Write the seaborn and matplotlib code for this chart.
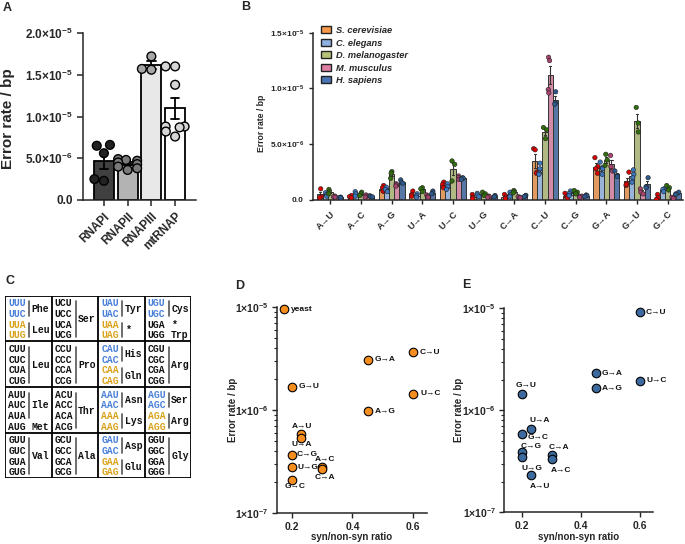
import numpy as np
import pandas as pd
import matplotlib
matplotlib.use('Agg')
import matplotlib.pyplot as plt
import seaborn as sns
from matplotlib.patches import Patch
from matplotlib.ticker import LogLocator, NullFormatter

sns.set_style('ticks')
plt.rcParams['font.family'] = ['Liberation Sans', 'DejaVu Sans']
plt.rcParams['mathtext.fontset'] = 'custom'
plt.rcParams['mathtext.rm'] = 'Liberation Sans'
plt.rcParams['mathtext.bf'] = 'Liberation Sans:bold'
plt.rcParams['mathtext.it'] = 'Liberation Sans:italic'
plt.rcParams['axes.linewidth'] = 1.1
plt.rcParams['font.weight'] = 'bold'

# ---------------- Panel A data (units of 1e-6) ----------------
pol_names = ['RNAPI', 'RNAPII', 'RNAPIII', 'mtRNAP']
rnap1 = [6.5, 6.6, 5.6, 2.5, 2.3]
rnap2 = [4.9, 4.8, 4.7, 4.5, 4.3, 4.0, 3.8, 3.6]
rnap3 = [17.2, 15.6, 15.7]
mtrnap = [16.0, 16.0, 13.8, 8.8, 8.8, 8.7, 7.6, 8.2]
a_ticks = [0, 5, 10, 15, 20]
a_ticklabels = ['0.0', r'$\mathbf{5.0×10^{-6}}$', r'$\mathbf{1.0×10^{-5}}$',
                r'$\mathbf{1.5×10^{-5}}$', r'$\mathbf{2.0×10^{-5}}$']

# ---------------- Panel B data (units of 1e-6) ----------------
mutations = ['A→U', 'A→C', 'A→G', 'U→A', 'U→C', 'U→G',
             'C→A', 'C→U', 'C→G', 'G→A', 'G→U', 'G→C']
species = ['S. cerevisiae', 'C. elegans', 'D. melanogaster', 'M. musculus', 'H. sapiens']
rep_scer = [[1.0, 0.3, 0.2], [0.4, 0.3, 0.2], [1.3, 1.1, 0.8, 0.8], [0.8, 0.5, 0.35],
            [1.6, 1.4, 1.1], [0.5, 0.25, 0.15], [0.5, 0.25, 0.15], [4.6, 4.5, 2.5, 2.4],
            [0.6, 0.3, 0.2], [3.8, 3.0, 2.8, 2.4], [2.5, 1.5, 1.3, 1.4], [0.5, 0.2, 0.05]]
rep_cele = [[0.65, 0.5, 0.35], [0.75, 0.55, 0.35], [1.15, 0.95, 0.75], [0.55, 0.4, 0.25],
            [1.45, 1.2, 0.95], [0.6, 0.45, 0.3], [0.7, 0.5, 0.3], [3.3, 2.8, 2.4, 2.3],
            [0.8, 0.6, 0.4], [3.4, 2.9, 2.8, 2.3], [2.7, 2.3, 2.0, 1.6], [1.0, 0.95, 0.75]]
rep_dmel = [[0.95, 0.75, 0.55], [0.7, 0.55, 0.4], [2.55, 2.4, 1.95], [1.1, 1.0, 0.75],
            [3.5, 3.2, 1.7], [0.7, 0.55, 0.4], [0.85, 0.75, 0.65], [6.5, 6.3, 5.5],
            [0.85, 0.7, 0.55], [4.1, 3.6, 3.1], [8.3, 6.9, 6.1], [1.3, 1.1, 0.9]]
rep_mmus = [[0.35, 0.3, 0.25], [0.45, 0.35, 0.25], [1.45, 1.35, 1.25], [0.45, 0.35, 0.25],
            [2.15, 2.0, 1.85], [0.35, 0.3, 0.25], [0.3, 0.25, 0.2], [12.8, 12.5, 9.9, 9.6],
            [0.35, 0.3, 0.25], [4.0, 3.0, 2.6], [1.0, 0.7, 0.55], [0.25, 0.2, 0.15]]
rep_hsap = [[0.26, 0.23, 0.2], [0.38, 0.33, 0.28], [1.8, 1.6, 1.5], [0.8, 0.65, 0.55],
            [2.0, 1.95, 1.85], [0.4, 0.34, 0.28], [0.42, 0.37, 0.32], [9.7, 8.7, 8.6],
            [0.45, 0.4, 0.32], [2.6, 2.2, 2.1], [2.0, 1.2, 1.1], [0.7, 0.55, 0.5]]
b_ticks = [0, 5, 10, 15]
b_ticklabels = ['0.0', r'$\mathbf{5.0×10^{-6}}$', r'$\mathbf{1.0×10^{-5}}$',
                r'$\mathbf{1.5×10^{-5}}$']

# ---------------- Panel C data ----------------
bases = ['U', 'C', 'A', 'G']
codon_groups = {
    ('U', 'U'): [([0, 1], 'Phe'), ([2, 3], 'Leu')],
    ('U', 'C'): [([0, 1, 2, 3], 'Ser')],
    ('U', 'A'): [([0, 1], 'Tyr'), ([2, 3], '*')],
    ('U', 'G'): [([0, 1], 'Cys'), ([2], '*'), ([3], 'Trp')],
    ('C', 'U'): [([0, 1, 2, 3], 'Leu')],
    ('C', 'C'): [([0, 1, 2, 3], 'Pro')],
    ('C', 'A'): [([0, 1], 'His'), ([2, 3], 'Gln')],
    ('C', 'G'): [([0, 1, 2, 3], 'Arg')],
    ('A', 'U'): [([0, 1, 2], 'Ile'), ([3], 'Met')],
    ('A', 'C'): [([0, 1, 2, 3], 'Thr')],
    ('A', 'A'): [([0, 1], 'Asn'), ([2, 3], 'Lys')],
    ('A', 'G'): [([0, 1], 'Ser'), ([2, 3], 'Arg')],
    ('G', 'U'): [([0, 1, 2, 3], 'Val')],
    ('G', 'C'): [([0, 1, 2, 3], 'Ala')],
    ('G', 'A'): [([0, 1], 'Asp'), ([2, 3], 'Glu')],
    ('G', 'G'): [([0, 1, 2, 3], 'Gly')],
}
blue_codons = ['UUU', 'UUC', 'UAU', 'UAC', 'UGU', 'UGC', 'CAU', 'CAC',
               'AAU', 'AAC', 'AGU', 'AGC', 'GAU', 'GAC']
gold_codons = ['UUA', 'UUG', 'UAA', 'UAG', 'CAA', 'CAG', 'AAA', 'AAG',
               'AGA', 'AGG', 'GAA', 'GAG']

# ---------------- Panel D / E data ----------------
d_labels = ['yeast', 'G→A', 'C→U', 'G→U', 'U→C', 'A→G', 'A→U', 'U→A',
            'C→G', 'U→G', 'A→C', 'C→A', 'G→C']
d_ratio = [0.175, 0.45, 0.6, 0.2, 0.6, 0.45, 0.23, 0.23, 0.2, 0.2, 0.3, 0.3, 0.2]
d_rate = [9.6e-6, 3.1e-6, 3.65e-6, 1.7e-6, 1.45e-6, 9.8e-7, 5.85e-7, 5.35e-7,
          3.7e-7, 2.8e-7, 2.8e-7, 2.68e-7, 2.1e-7]
e_labels = ['C→U', 'G→A', 'U→C', 'A→G', 'G→U', 'U→A', 'G→C', 'C→G',
            'U→G', 'C→A', 'A→C', 'A→U']
e_ratio = [0.6, 0.45, 0.6, 0.45, 0.2, 0.23, 0.2, 0.2, 0.2, 0.3, 0.3, 0.23]
e_rate = [9.1e-6, 2.3e-6, 1.95e-6, 1.65e-6, 1.45e-6, 6.6e-7, 5.8e-7, 3.9e-7,
          3.45e-7, 3.65e-7, 3.35e-7, 2.3e-7]
log_ticks = [1e-7, 1e-6, 1e-5]
log_ticklabels = [r'$\mathbf{1×10^{-7}}$', r'$\mathbf{1×10^{-6}}$', r'$\mathbf{1×10^{-5}}$']
ratio_ticks = [0.2, 0.4, 0.6]

# label offsets (pixels) and alignment -- styling only
d_off = [(7, 0, 'left'), (7, 0, 'left'), (7, 0, 'left'), (7, 0, 'left'), (7, 0, 'left'),
         (7, 0, 'left'), (1, 8, 'center'), (1, -6, 'center'), (5, 0, 'left'),
         (6, 0, 'left'), (3, 8, 'center'), (3, -8, 'center'), (3, -6, 'center')]
e_off = [(6, 0, 'left'), (6, 0, 'left'), (6, 0, 'left'), (6, 0, 'left'),
         (4, 8, 'center'), (9, 8, 'center'), (16, -3, 'center'), (9, 6, 'center'),
         (10, -11, 'center'), (7, 7, 'center'), (9, -12, 'center'), (9, -11, 'center')]

W, H = 685, 544
fig = plt.figure(figsize=(W / 100, H / 100), dpi=100)
fig.patch.set_facecolor('white')


def rect(l, t, r, b):
    return [l / W, 1 - b / H, (r - l) / W, (b - t) / H]


def letter(x, y, s):
    fig.text(x / W, 1 - y / H, s, fontsize=9, fontweight='bold', va='top', ha='left')


# ================= Panel A =================
axA = fig.add_axes(rect(83, 33, 196, 200))
dfA = pd.DataFrame({
    'pol': sum([[n] * len(v) for n, v in zip(pol_names, [rnap1, rnap2, rnap3, mtrnap])], []),
    'rate': rnap1 + rnap2 + rnap3 + mtrnap})
barA = ['#404040', '#b3b3b3', '#e8e8e8', '#ffffff']
dotA = ['#222222', '#7a7a7a', '#a6a6a6', '#d6d6d6']
sns.barplot(data=dfA, x='pol', y='rate', hue='pol', order=pol_names, hue_order=pol_names,
            palette=barA, errorbar='se', capsize=0.35, width=0.85, edgecolor='black',
            linewidth=1.3, err_kws={'color': 'black', 'linewidth': 1.3}, legend=False, ax=axA)
sns.swarmplot(data=dfA, x='pol', y='rate', hue='pol', order=pol_names, hue_order=pol_names,
              palette=dotA, size=6.3, edgecolor='black', linewidth=1.0, legend=False,
              warn_thresh=1.0, ax=axA)
axA.set_ylim(0, 20)
axA.set_xlim(-0.88, 3.88)
axA.set_yticks(a_ticks, a_ticklabels)
axA.tick_params(axis='y', labelsize=8.5, width=1.1, length=4)
axA.tick_params(axis='x', labelsize=8.5, width=1.1, length=4)
plt.setp(axA.get_xticklabels(), rotation=45, ha='right', rotation_mode='anchor', fontweight='bold')
axA.set_xlabel('')
axA.set_ylabel('Error rate / bp', fontsize=11, fontweight='bold')
axA.yaxis.set_label_coords(-0.6, 0.49)
sns.despine(ax=axA)

# ================= Panel B =================
axB = fig.add_axes(rect(313, 32.7, 683, 200))
rowsB = []
for sp, reps in zip(species, [rep_scer, rep_cele, rep_dmel, rep_mmus, rep_hsap]):
    for m, vals in zip(mutations, reps):
        for v in vals:
            rowsB.append((m, sp, v))
dfB = pd.DataFrame(rowsB, columns=['mutation', 'species', 'rate'])
bar_cols = ['#f7994a', '#8fb2e2', '#b6c27a', '#de80a4', '#4a74b4']
dot_cols = ['#dd0000', '#3b78c0', '#2f6e0a', '#a8436e', '#2b5a8f']
sns.barplot(data=dfB, x='mutation', y='rate', hue='species', order=mutations, hue_order=species,
            palette=bar_cols, errorbar='se', capsize=0.35, width=0.84, edgecolor='#333333',
            linewidth=0.7, err_kws={'color': '#333333', 'linewidth': 0.8}, legend=False, ax=axB)
np.random.seed(3)
sns.stripplot(data=dfB, x='mutation', y='rate', hue='species', order=mutations, hue_order=species,
              palette=dot_cols, dodge=True, jitter=0.3, size=3.2, edgecolor='#222222',
              linewidth=0.4, legend=False, ax=axB)
axB.set_ylim(0, 15)
axB.set_xlim(-0.565, 11.5)
axB.set_yticks(b_ticks, b_ticklabels)
axB.tick_params(axis='y', labelsize=6, width=1.0, length=3)
axB.tick_params(axis='x', labelsize=6.5, width=1.0, length=3)
plt.setp(axB.get_xticklabels(), rotation=45, ha='right', rotation_mode='anchor', fontweight='bold')
axB.set_xlabel('')
axB.set_ylabel('Error rate / bp', fontsize=6.2, fontweight='bold')
axB.yaxis.set_label_coords(-0.127, 0.46)
sns.despine(ax=axB)
handles = [Patch(facecolor=c, edgecolor='#222222', linewidth=1.0) for c in bar_cols]
axB.legend(handles, species, loc='upper left', bbox_to_anchor=(0.022, 1.04), frameon=False,
           prop={'size': 6.7, 'style': 'italic', 'weight': 'bold'}, handlelength=1.05,
           handleheight=0.75, labelspacing=0.38, handletextpad=0.55, borderpad=0,
           borderaxespad=0)

# ================= Panel C =================
axC = fig.add_axes(rect(5, 295.7, 191, 478.3))
axC.set_xlim(0, 4)
axC.set_ylim(4, 0)
axC.axis('off')
for k in range(5):
    axC.plot([0, 4], [k, k], color='black', lw=1.3, solid_capstyle='projecting')
    axC.plot([k, k], [0, 4], color='black', lw=1.3, solid_capstyle='projecting')
row_pos = [0.17, 0.40, 0.634, 0.866]
for i, b1 in enumerate(bases):
    for j, b2 in enumerate(bases):
        for k, b3 in enumerate(bases):
            cod = b1 + b2 + b3
            col = '#4a80d8' if cod in blue_codons else ('#d9a21b' if cod in gold_codons else '#111111')
            axC.text(j + 0.07, i + row_pos[k], cod, family='Liberation Mono', fontweight='bold',
                     fontsize=7, color=col, ha='left', va='center')
        for rows, aa in codon_groups[(b1, b2)]:
            ys = [row_pos[r] for r in rows]
            if len(rows) > 1:
                axC.plot([j + 0.52, j + 0.52], [i + ys[0] - 0.045, i + ys[-1] + 0.04],
                         color='#555555', lw=1.2)
            xoff = 0.6 if aa == '*' else 0.575
            axC.text(j + xoff, i + np.mean(ys), aa, family='Liberation Mono', fontweight='bold',
                     fontsize=7, color='#111111', ha='left', va='center')


# ================= Panels D and E =================
def scatter_panel(ax, ratio, rate, labels, offs, color):
    sns.scatterplot(x=ratio, y=rate, ax=ax, color=color, s=38, edgecolor='black',
                    linewidth=0.8, zorder=3, clip_on=False)
    ax.set_yscale('log')
    ax.set_ylim(1e-7, 1e-5)
    ax.set_yticks(log_ticks, log_ticklabels)
    ax.yaxis.set_minor_locator(LogLocator(base=10, subs=np.arange(2, 10)))
    ax.yaxis.set_minor_formatter(NullFormatter())
    ax.set_xticks(ratio_ticks, ['0.2', '0.4', '0.6'])
    ax.tick_params(axis='both', which='major', labelsize=7.5, width=1.0, length=3.5, pad=2.5)
    ax.tick_params(axis='y', which='minor', width=0.8, length=2)
    for t in ax.get_xticklabels() + ax.get_yticklabels():
        t.set_fontweight('bold')
    for x, y, lab, (dx, dy, ha) in zip(ratio, rate, labels, offs):
        ax.annotate(lab, (x, y), xytext=(dx * 0.72, dy * 0.72), textcoords='offset points',
                    ha=ha, va='center', fontsize=6, fontweight='bold', color='#111111')
    ax.set_xlabel('syn/non-syn ratio', fontsize=7, fontweight='bold')
    ax.set_ylabel('Error rate / bp', fontsize=7, fontweight='bold')
    sns.despine(ax=ax)


axD = fig.add_axes(rect(276.7, 307.3, 426.7, 513.3))
scatter_panel(axD, d_ratio, d_rate, d_labels, d_off, '#f58d1f')
axD.set_xlim(0.15, 0.645)
axD.yaxis.set_label_coords(-0.26, 0.5)
axD.xaxis.set_label_coords(0.5, -0.09)

axE = fig.add_axes(rect(504.3, 308.3, 653.3, 512.3))
scatter_panel(axE, e_ratio, e_rate, e_labels, e_off, '#3d6a9e')
axE.set_xlim(0.139, 0.645)
axE.yaxis.set_label_coords(-0.27, 0.5)
axE.xaxis.set_label_coords(0.5, -0.095)

letter(3, 2, 'A')
letter(241, 1, 'B')
letter(5, 275, 'C')
letter(235, 280, 'D')
letter(462, 279, 'E')

fig.savefig('out.png', dpi=100, facecolor='white')
